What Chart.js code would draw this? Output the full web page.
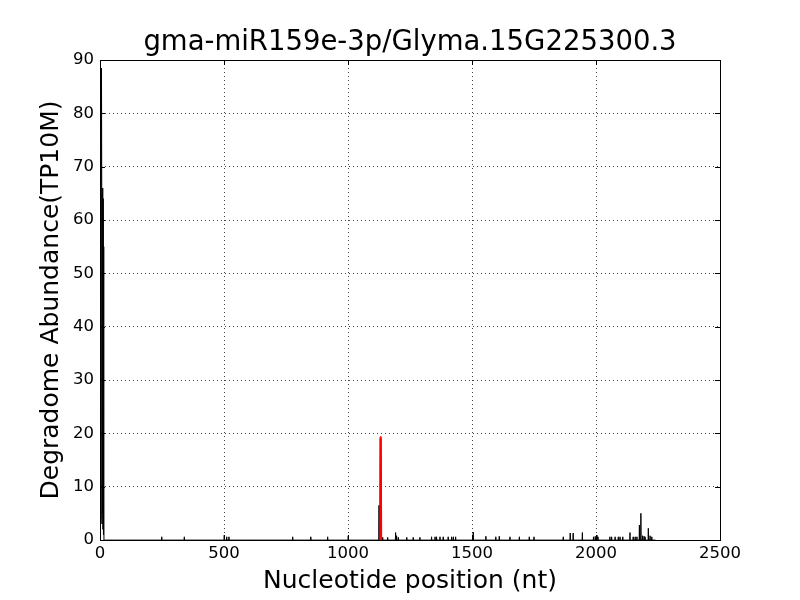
<!DOCTYPE html>
<html>
<head>
<meta charset="utf-8">
<script src="https://cdn.jsdelivr.net/npm/chart.js@4/dist/chart.umd.min.js"></script>
<style>
html,body{margin:0;padding:0;background:#fff;}
#wrap{width:800px;height:600px;}
</style>
</head>
<body>
<div id="wrap"><canvas id="c" width="800" height="600"></canvas></div>
<script>
// ---- data ----
const titleText = "gma-miR159e-3p/Glyma.15G225300.3";
const xLabel = "Nucleotide position (nt)";
const yLabel = "Degradome Abundance(TP10M)";
const transcriptLength = 2240;

// degradome signal (black), nucleotide position -> abundance
const spikePositions = [1, 2, 3, 4, 5, 6, 7, 8, 9, 10, 11, 12, 13, 14, 15,
  249, 340, 501, 511, 520, 777, 850, 918, 1001,
  1125, 1130, 1131, 1132, 1133, 1134,
  1140, 1160, 1192, 1196, 1203, 1237, 1263, 1290, 1337, 1351, 1357, 1371, 1384, 1404, 1418, 1425, 1434,
  1505, 1556, 1596, 1610, 1653, 1691, 1731, 1750, 1868, 1896, 1908, 1945,
  1990, 1997, 2004, 2008, 2056, 2063, 2077, 2090, 2097, 2108, 2137, 2150, 2158, 2165,
  2175, 2181, 2188, 2194, 2198, 2211, 2218, 2225];
const spikeValues = [20, 66.5, 4, 60, 66.5, 88.5, 66, 3, 65, 5, 66, 2, 64, 1, 55,
  0.6, 0.6, 0.9, 0.6, 0.6, 0.6, 0.6, 0.6, 0.8,
  6.5, 19.0, 19.3, 19.3, 19.0, 10,
  0.5, 0.5, 1.4, 0.8, 0.5, 0.5, 0.5, 0.5, 0.6, 0.6, 0.6, 0.6, 0.6, 0.6, 0.6, 0.6, 0.6,
  1.5, 0.7, 0.6, 0.7, 0.6, 0.6, 0.6, 0.6, 0.6, 1.3, 1.3, 1.4,
  0.6, 0.7, 0.9, 0.6, 0.6, 0.6, 0.6, 0.6, 0.6, 0.6, 1.4, 0.6, 0.6, 0.6,
  2.8, 5.0, 0.8, 0.7, 0.6, 2.2, 0.8, 0.6];

// miRNA cleavage site region (red)
const redPositions = [1129, 1130, 1131, 1132, 1133, 1134, 1135];
const redValues = [0, 19.0, 19.3, 19.3, 19.0, 10, 0];

const xTickStep = 500, xMax = 2500;
const yTickStep = 10, yMax = 90;

// ---- build datasets from the arrays ----
const spikeMap = {};
spikePositions.forEach((p, i) => { spikeMap[p] = spikeValues[i]; });
const blackData = [];
for (let p = 1; p <= transcriptLength; p++) {
  blackData.push({x: p, y: spikeMap[p] !== undefined ? spikeMap[p] : 0});
}
const redData = redPositions.map((p, i) => ({x: p, y: redValues[i]}));

const FONT = "'DejaVu Sans', 'Liberation Sans', sans-serif";

const framePlugin = {
  id: 'frame',
  afterDatasetsDraw(chart) {
    const {ctx, chartArea: a, scales} = chart;
    ctx.save();
    ctx.strokeStyle = '#000';
    ctx.lineWidth = 1;
    ctx.setLineDash([]);
    const L = 5;
    ctx.beginPath();
    scales.x.ticks.forEach(t => {
      const px = Math.round(scales.x.getPixelForValue(t.value)) + 0.5;
      ctx.moveTo(px, a.bottom); ctx.lineTo(px, a.bottom - L);
      ctx.moveTo(px, a.top); ctx.lineTo(px, a.top + L);
    });
    scales.y.ticks.forEach(t => {
      const py = Math.round(scales.y.getPixelForValue(t.value)) + 0.5;
      ctx.moveTo(a.left, py); ctx.lineTo(a.left + L, py);
      ctx.moveTo(a.right, py); ctx.lineTo(a.right - L, py);
    });
    ctx.stroke();
    ctx.strokeRect(Math.round(a.left) + 0.5, Math.round(a.top) + 0.5,
      Math.round(a.right - a.left), Math.round(a.bottom - a.top));
    ctx.restore();
  }
};

new Chart(document.getElementById('c'), {
  type: 'line',
  data: {
    datasets: [
      {data: redData, borderColor: '#ff0000', borderWidth: 1.4, borderDash: [100000, 0], pointRadius: 0, tension: 0, order: 0, yAxisID: 'y'},
      {data: blackData, borderColor: '#000000', borderWidth: 1, borderDash: [100000, 0], pointRadius: 0, tension: 0, order: 1, yAxisID: 'y'}
    ]
  },
  options: {
    responsive: false,
    animation: false,
    events: [],
    layout: {padding: {left: 20, right: 0, top: 0, bottom: 0}},
    plugins: {
      legend: {display: false},
      tooltip: {enabled: false},
      title: {
        display: true,
        text: titleText,
        color: '#000',
        font: {family: FONT, size: 27.5, weight: 'normal', lineHeight: 1.1},
        padding: {top: 28, bottom: 1.75}
      }
    },
    scales: {
      x: {
        type: 'linear',
        min: 0, max: xMax,
        afterFit: s => { s.height = 60; },
        ticks: {stepSize: xTickStep, color: '#000', font: {family: FONT, size: 16.5}, padding: 4, maxRotation: 0,
          callback: v => String(v)},
        grid: {color: 'rgba(0,0,0,0.75)', lineWidth: 1, drawTicks: false},
        border: {display: true, color: '#000', dash: [1, 3]},
        title: {display: true, text: xLabel, color: '#000', font: {family: FONT, size: 25}, padding: {top: 0, bottom: 4}}
      },
      y: {
        position: 'left',
        min: 0, max: yMax,
        afterFit: s => { s.width = 80; },
        ticks: {stepSize: yTickStep, color: '#000', font: {family: FONT, size: 16.5}, padding: 6},
        grid: {color: 'rgba(0,0,0,0.75)', lineWidth: 1, drawTicks: false},
        border: {display: true, color: '#000', dash: [1, 3]},
        title: {display: true, text: yLabel, color: '#000', font: {family: FONT, size: 25}, padding: {top: 16, bottom: 0}}
      },
      yRight: {
        position: 'right',
        min: 0, max: yMax,
        afterFit: s => { s.width = 80; },
        ticks: {display: false},
        grid: {display: false, drawTicks: false},
        border: {display: false}
      }
    }
  },
  plugins: [framePlugin]
});
</script>
</body>
</html>
